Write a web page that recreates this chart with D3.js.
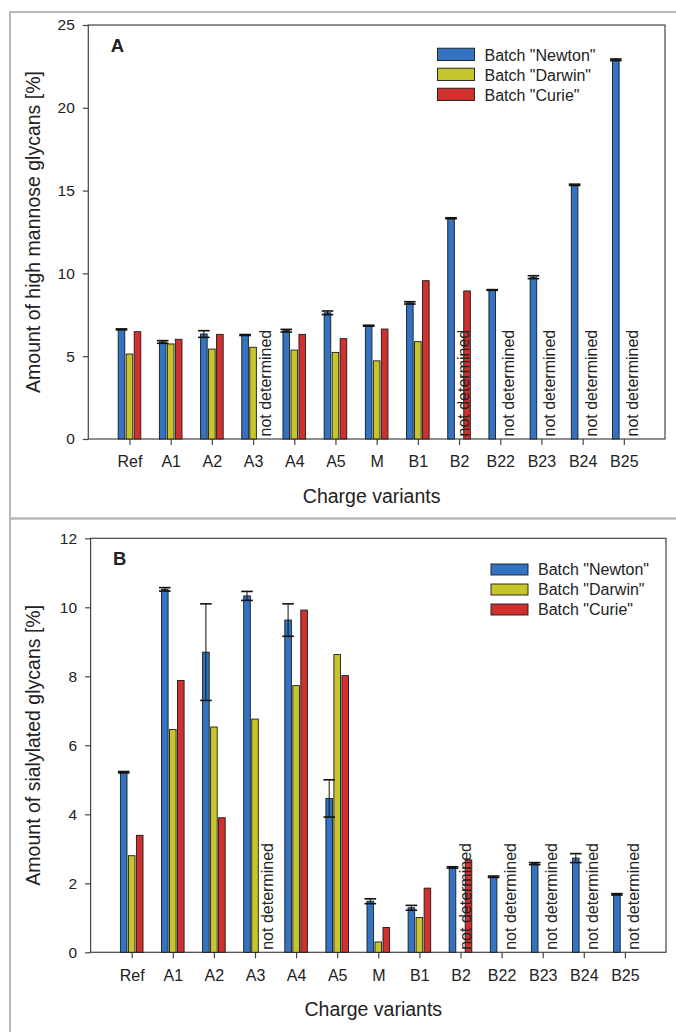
<!DOCTYPE html>
<html>
<head>
<meta charset="utf-8">
<script src="https://cdn.jsdelivr.net/npm/d3@7"></script>
<style>
  body { margin: 0; background: #fff; }
  svg { display: block; font-family: "Liberation Sans", Arial, sans-serif; }
</style>
</head>
<body>
<svg id="fig" width="676" height="1032"></svg>
<script>
// Charge variants along the x axis
const categories = ["Ref", "A1", "A2", "A3", "A4", "A5", "M", "B1", "B2", "B22", "B23", "B24", "B25"];
const seriesNames = ['Batch "Newton"', 'Batch "Darwin"', 'Batch "Curie"'];
const seriesColors = ["#3274c2", "#c6c62c", "#d0302e"];

// Panel A: high mannose glycans [%] (null = not determined)
const mannoseNewton    = [6.62, 5.86, 6.34, 6.28, 6.54, 7.62, 6.84, 8.22, 13.33, 9.00, 9.77, 15.35, 22.90];
const mannoseNewtonErr = [0.03, 0.08, 0.20, 0.03, 0.08, 0.11, 0.03, 0.07, 0.03, 0.02, 0.09, 0.04, 0.05];
const mannoseDarwin    = [5.13, 5.74, 5.43, 5.54, 5.37, 5.23, 4.72, 5.88, null, null, null, null, null];
const mannoseCurie     = [6.48, 6.02, 6.32, null, 6.32, 6.06, 6.64, 9.56, 8.94, null, null, null, null];
const mannoseTicks     = [0, 5, 10, 15, 20, 25];

// Panel B: sialylated glycans [%]
const sialylNewton    = [5.22, 10.52, 8.70, 10.33, 9.63, 4.46, 1.48, 1.29, 2.46, 2.19, 2.57, 2.73, 1.68];
const sialylNewtonErr = [0.02, 0.05, 1.40, 0.13, 0.47, 0.54, 0.07, 0.07, 0.02, 0.02, 0.03, 0.13, 0.02];
const sialylDarwin    = [2.80, 6.46, 6.53, 6.76, 7.73, 8.63, 0.30, 1.01, null, null, null, null, null];
const sialylCurie     = [3.39, 7.88, 3.90, null, 9.92, 8.02, 0.72, 1.86, 2.68, null, null, null, null];
const sialylTicks     = [0, 2, 4, 6, 8, 10, 12];

const svg = d3.select("#fig");
const ink = "#222";

// light grey boxes around each panel
svg.append("rect").attr("x", 10).attr("y", 12).attr("width", 700).attr("height", 506.5)
  .attr("fill", "none").attr("stroke", "#b8b8b8").attr("stroke-width", 2);
svg.append("rect").attr("x", 10).attr("y", 518.5).attr("width", 700).attr("height", 540)
  .attr("fill", "none").attr("stroke", "#b8b8b8").attr("stroke-width", 2);

function panel(cfg) {
  const g = svg.append("g");
  const { left, right, top, bottom } = cfg;
  const x = d3.scaleLinear().domain([-1, categories.length]).range([left, right]);
  const y = d3.scaleLinear().domain([0, cfg.max]).range([bottom, top]);
  const bw = 6.6, off = 8;

  // plot frame
  g.append("rect").attr("x", left).attr("y", top).attr("width", right - left).attr("height", bottom - top)
    .attr("fill", "none").attr("stroke", "#444").attr("stroke-width", 1.2);

  // y axis
  const ya = g.append("g").attr("transform", `translate(${left},0)`)
    .call(d3.axisLeft(y).tickValues(cfg.ticks).tickSize(5.5).tickPadding(8).tickFormat(d3.format("d")));
  ya.select(".domain").remove();
  ya.selectAll("line").attr("stroke", "#444").attr("stroke-width", 1.2);
  ya.selectAll("text").attr("font-size", 15.5).attr("fill", ink).attr("font-family", "Liberation Sans, Arial, sans-serif");

  // x axis
  const xa = g.append("g").attr("transform", `translate(0,${bottom})`)
    .call(d3.axisBottom(x).tickValues(d3.range(categories.length)).tickSize(6).tickPadding(11)
      .tickFormat(i => categories[i]));
  xa.select(".domain").remove();
  xa.selectAll("line").attr("stroke", "#444").attr("stroke-width", 1.2);
  xa.selectAll("text").attr("font-size", 16).attr("fill", ink).attr("font-family", "Liberation Sans, Arial, sans-serif");

  // bars
  const sets = [cfg.newton, cfg.darwin, cfg.curie];
  sets.forEach((vals, s) => {
    g.append("g").selectAll("rect")
      .data(vals.map((v, i) => ({ v, i })).filter(d => d.v !== null))
      .join("rect")
      .attr("x", d => x(d.i) + (s - 1) * off - bw / 2)
      .attr("y", d => y(d.v))
      .attr("width", bw)
      .attr("height", d => y(0) - y(d.v))
      .attr("fill", seriesColors[s])
      .attr("stroke", "#1a1a1a").attr("stroke-width", 0.9);
  });

  // error bars on the Newton batch
  const eb = g.append("g").attr("stroke", "#111");
  cfg.newton.forEach((v, i) => {
    const e = cfg.err[i];
    const cx = x(i) - off;
    eb.append("line").attr("x1", cx).attr("x2", cx).attr("y1", y(v - e)).attr("y2", y(v + e)).attr("stroke-width", 1);
    [v - e, v + e].forEach(t => {
      eb.append("line").attr("x1", cx - 5.8).attr("x2", cx + 5.8).attr("y1", y(t)).attr("y2", y(t)).attr("stroke-width", 1.6);
    });
  });

  // "not determined" markers in the empty slots
  categories.forEach((c, i) => {
    const dMiss = cfg.darwin[i] === null, cMiss = cfg.curie[i] === null;
    if (!dMiss && !cMiss) return;
    const slot = dMiss && cMiss ? x(i) + off / 2 : (dMiss ? x(i) : x(i) + off);
    const bx = slot + 10, by = bottom - 2.5;
    g.append("text").attr("transform", `translate(${bx},${by}) rotate(-90)`)
      .attr("font-size", 16).attr("fill", ink).text("not determined");
  });

  // panel letter
  g.append("text").attr("x", left + 22.5).attr("y", top + 27).attr("font-size", 18.5)
    .attr("font-weight", "bold").attr("fill", ink).text(cfg.letter);

  // axis titles
  g.append("text").attr("x", (left + right) / 2 - 5).attr("y", bottom + 64)
    .attr("text-anchor", "middle").attr("font-size", 19.5).attr("fill", ink).text("Charge variants");
  g.append("text").attr("transform", `translate(40,${(top + bottom) / 2}) rotate(-90)`)
    .attr("text-anchor", "middle").attr("font-size", 19.5).attr("fill", ink).text(cfg.yTitle);

  // legend
  const lg = g.append("g");
  seriesNames.forEach((name, s) => {
    const yy = cfg.legY + s * cfg.legStep;
    lg.append("rect").attr("x", cfg.legX).attr("y", yy - cfg.swH).attr("width", 37).attr("height", cfg.swH)
      .attr("fill", seriesColors[s]).attr("stroke", "#1a1a1a").attr("stroke-width", 0.9);
    lg.append("text").attr("x", cfg.legX + 47).attr("y", yy).attr("font-size", 16).attr("fill", ink).text(name);
  });
}

panel({
  left: 88.3, right: 665, top: 25, bottom: 439, max: 25, ticks: mannoseTicks,
  newton: mannoseNewton, err: mannoseNewtonErr, darwin: mannoseDarwin, curie: mannoseCurie,
  letter: "A", yTitle: "Amount of high mannose glycans [%]",
  legX: 437.5, legY: 60.5, legStep: 20, swH: 12.3
});

panel({
  left: 90.6, right: 666, top: 538.3, bottom: 952.3, max: 12, ticks: sialylTicks,
  newton: sialylNewton, err: sialylNewtonErr, darwin: sialylDarwin, curie: sialylCurie,
  letter: "B", yTitle: "Amount of sialylated glycans [%]",
  legX: 491, legY: 575, legStep: 20, swH: 11
});
</script>
</body>
</html>
